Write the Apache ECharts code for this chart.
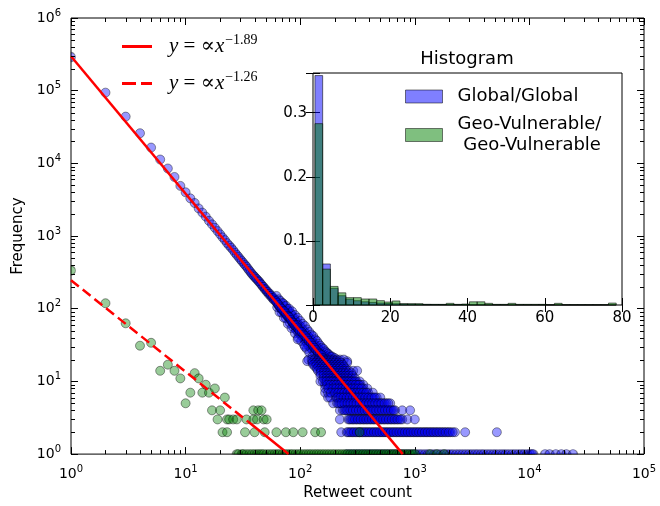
<!DOCTYPE html>
<html>
<head>
<meta charset="utf-8">
<script src="https://cdn.jsdelivr.net/npm/echarts@6.0.0/dist/echarts.min.js"></script>
<style>
	html, body {
		margin: 0;
		padding: 0;
		background: #fff;
	}

	#main {
		width: 660px;
		height: 506px;
	}
</style>
</head>
<body>
<div id="main"></div>
<script>
	// Global/Global: one point per retweet count near the head of the distribution
	var globalHeadX = [2, 3, 4, 5, 6, 7, 8, 9, 10, 11, 12, 13, 14, 15, 16, 17, 18, 19, 20, 21, 22, 23, 24, 25, 26, 27, 28, 29, 30,
		31, 32, 33, 34, 35, 36, 37, 38, 39, 40, 41, 42, 43, 44, 45, 46, 47, 48, 49, 50, 51, 52, 53, 54, 55, 56, 57, 58, 59, 60];
	var globalHeadY = [94000, 44000, 26000, 16500, 11300, 8500, 6500, 4900, 4000, 3300, 2850, 2400, 2100, 1850, 1620, 1450, 1300, 1170, 1060, 960, 880, 800, 740, 690, 640, 590, 550, 515, 480,
		452, 425, 400, 380, 355, 335, 318, 300, 287, 275, 262, 255, 240, 236, 222, 215, 202, 200, 186, 185, 172, 172, 160, 162, 150, 152, 140, 142, 132, 135];
	// Global/Global: the widening band, [count, frequency]
	var globalBand = [
		[62, 124], [62, 150], [63, 105], [64, 114], [65, 135], [66, 108], [67, 128], [68, 100], [69, 88], [70, 98],
		[71, 118], [72, 90], [73, 108], [74, 86], [75, 74], [76, 84], [77, 100], [78, 78], [79, 94], [80, 74],
		[81, 64], [82, 72], [83, 86], [84, 68], [85, 80], [86, 64], [87, 56], [88, 62], [89, 74], [90, 58],
		[91, 68], [92, 52], [93, 56], [94, 64], [95, 48], [96, 53], [97, 60], [98, 46], [100, 50], [101, 57],
		[102, 43], [104, 46], [105, 52], [106, 40], [108, 42], [109, 48], [110, 37], [112, 40], [113, 45], [114, 34],
		[116, 37], [117, 42], [118, 31], [120, 35], [122, 39], [123, 29], [125, 32], [127, 36], [128, 27], [130, 30],
		[132, 33], [134, 25], [135, 28], [137, 31], [140, 26], [142, 29], [144, 23], [146, 25], [148, 27], [150, 22],
		[153, 24], [156, 21], [160, 22], [163, 23], [168, 21], [172, 22],
		[70, 120], [75, 110], [80, 100], [85, 92], [90, 82], [95, 75], [100, 68], [105, 62], [110, 58], [115, 52],
		[120, 48], [125, 44], [130, 42], [135, 38], [140, 36], [145, 33], [150, 31], [155, 29], [160, 28], [165, 26],
		[170, 25], [175, 24], [180, 23], [185, 22], [190, 22], [200, 21],
		[66, 90], [72, 75], [78, 62], [84, 54], [90, 46], [96, 40], [102, 36], [108, 32], [114, 28], [120, 25],
		[128, 22], [95, 38], [110, 30],
		[61, 128], [63, 120], [65, 112], [67, 104], [69, 100], [71, 94], [73, 92], [75, 86], [77, 80], [79, 78],
		[81, 76], [83, 70], [85, 66], [87, 64], [89, 60], [91, 58], [93, 60], [95, 55], [97, 52], [99, 49],
		[103, 48], [107, 44], [111, 42], [115, 39], [119, 36], [124, 34], [129, 31], [133, 29], [138, 27], [143, 25],
		[148, 24], [154, 23], [158, 21]
	];
	// Global/Global: integer frequency rows in the tail
	var globalRowFreq = [20, 19, 18, 17, 16, 15, 14, 13, 12, 11, 10, 9, 8, 7, 6, 5, 4, 3, 2,
		10, 9, 8, 7, 6, 5, 4, 3, 2];
	var globalRowCounts = [
		[118, 126, 134, 143, 152, 162, 172, 183, 195, 208, 222, 240],
		[115, 128, 140, 150, 160, 171, 182, 194, 206, 220, 257],
		[128, 136, 145, 155, 165, 176, 188, 200, 214, 228, 257],
		[130, 140, 150, 160, 171, 182, 194, 207, 221, 236],
		[135, 144, 154, 164, 175, 186, 198, 211, 225, 240],
		[140, 150, 160, 170, 181, 193, 205, 218, 233, 250],
		[143, 152, 162, 172, 183, 195, 208, 221, 236, 250, 266, 290, 314],
		[150, 160, 170, 181, 192, 204, 217, 231, 246, 262, 280],
		[150, 160, 171, 182, 194, 206, 219, 233, 248, 264, 285],
		[160, 170, 181, 193, 205, 218, 232, 247, 263, 280, 300],
		[150, 165, 176, 187, 199, 212, 225, 240, 255, 272, 290, 310, 330],
		[165, 178, 190, 202, 215, 229, 244, 260, 277, 295, 315, 335, 355],
		[165, 188, 200, 213, 227, 242, 258, 275, 293, 312, 333, 356, 385],
		[165, 175, 196, 209, 222, 236, 251, 267, 284, 302, 322, 343, 366, 392, 430],
		[175, 183, 205, 218, 232, 247, 263, 280, 298, 317, 337, 359, 382, 407, 433, 465, 500],
		[194, 210, 222, 236, 251, 267, 284, 302, 321, 342, 364, 387, 412, 438, 466, 496, 528, 565, 610],
		[222, 236, 250, 265, 281, 298, 316, 335, 355, 376, 399, 423, 448, 475, 504, 534, 566, 600, 636, 673, 777, 910],
		[222, 262, 277, 293, 310, 328, 347, 367, 388, 411, 435, 460, 487, 515, 545, 577, 611, 647, 685, 725, 777, 860, 1000],
		[228, 255, 270, 286, 303, 321, 340, 360, 381, 403, 427, 452, 478, 506, 536, 567, 600, 636, 673, 712, 754, 798, 845, 894,
			946, 1002, 1060, 1122, 1190, 1260, 1335, 1415, 1500, 1590, 1690, 1800, 1920, 2050, 2240, 2750, 5200],
		[158, 170, 182, 193, 205, 218, 232, 247, 263, 281, 300],
		[172, 184, 196, 208, 222, 236, 252, 268, 286, 305, 325],
		[176, 194, 206, 220, 234, 250, 266, 284, 302, 322, 344],
		[185, 202, 215, 229, 243, 259, 275, 293, 312, 332, 354, 378],
		[211, 225, 239, 255, 271, 289, 307, 327, 348, 370, 394, 420, 448],
		[216, 229, 243, 259, 275, 293, 311, 331, 353, 375, 399, 425, 452, 481, 512, 546, 587],
		[243, 257, 273, 289, 307, 325, 345, 365, 387, 411, 435, 461, 489, 519, 550, 583, 618, 655],
		[270, 285, 301, 319, 337, 357, 377, 399, 423, 447, 473, 501, 530, 561, 594, 629, 666, 705, 750],
		[262, 278, 294, 312, 330, 350, 370, 392, 415, 440, 465, 492, 521, 551, 583, 618, 654, 692, 733, 776, 821, 869,
			920, 974, 1030, 1090, 1155, 1225, 1295, 1375, 1455, 1545, 1640, 1745, 1860, 1985, 2140]
	];
	// counts seen exactly once
	var globalOnce = [255, 272, 290, 310, 330, 352, 375, 400, 425, 452, 480, 512, 545, 580, 620, 660, 700, 745, 790, 845,
		900, 960, 1020, 1085, 1150, 1225, 1300, 1390, 1480, 1580, 1680, 1790, 1900, 2020, 2150, 2300, 2450, 2610, 2780, 2960,
		3150, 3350, 3550, 3780, 4000, 4270, 4550, 4850, 5150, 5500, 5850, 6200, 6600, 7050, 7500, 8000, 8500, 9000, 9600, 10100,
		10500, 10800, 13700, 15000, 17000, 19000, 21000, 24000];
	var globalAtOne = 290000;

	// Geo-Vulnerable/Geo-Vulnerable
	var geoPoints = [
		[2, 119], [3, 63], [4, 31], [5, 34], [6, 14], [7, 17], [8, 14], [9, 11], [10, 5], [11, 7],
		[12, 13], [13, 11], [14, 7], [15, 9], [16, 7], [17, 4], [18, 8], [19, 3], [20, 4], [21, 2],
		[22, 6], [23, 2], [23, 3], [24, 3], [26, 3], [28, 3], [33, 2], [34, 3], [39, 3], [39, 4],
		[40, 2], [42, 3], [43, 4], [46, 4], [48, 3], [49, 2], [51, 3], [62, 2], [75, 2], [87, 2],
		[105, 2], [135, 2], [152, 2], [330, 2]
	];
	var geoOnce = [28, 29, 31, 32, 34, 36, 38, 40, 42, 44, 46, 48, 51, 54, 57, 60, 63, 66, 70, 74, 78, 82, 86, 91, 96, 101,
		107, 113, 119, 125, 132, 139, 146, 154, 162, 171, 180, 190, 200, 211, 222, 234, 246, 259, 273, 288, 303, 319, 336, 354,
		373, 393, 414, 436, 459, 484, 510, 537, 566, 596, 628, 661, 696, 733, 772, 813, 856, 902, 950, 1000, 1350, 1550, 1800];
	var geoAtOne = 336;

	// power-law fits (straight in log-log, so the end points define them)
	var fitGlobalX = [1, 785];
	var fitGlobalY = [297000, 1];
	var fitGeoDashX = [1, 35];
	var fitGeoDashY = [247, 2.8];
	var fitGeoTailX = [35, 79];
	var fitGeoTailY = [2.8, 1];

	// inset histogram (bin width 2)
	var binStarts = [0.5, 2.5, 4.5, 6.5, 8.5, 10.5, 12.5, 14.5, 16.5, 18.5, 20.5, 22.5, 24.5, 26.5, 28.5, 30.5, 32.5, 34.5, 36.5, 38.5,
		40.5, 42.5, 44.5, 46.5, 48.5, 50.5, 52.5, 54.5, 56.5, 58.5, 60.5, 62.5, 64.5, 66.5, 68.5, 70.5, 72.5, 74.5, 76.5];
	var histGlobal = [0.358, 0.064, 0.026, 0.0145, 0.009, 0.0067, 0.005, 0.004, 0.003, 0.0024, 0.002, 0.0016, 0.0013, 0.0011, 0.0009, 0.0008, 0.0007, 0.0006, 0.0005, 0.0005,
		0.0004, 0.0004, 0.0003, 0.0003, 0.0003, 0.0002, 0.0002, 0.0002, 0.0002, 0.0002, 0.0001, 0.0001, 0.0001, 0.0001, 0.0001, 0.0001, 0.0001, 0.0001, 0.0001];
	var histGeo = [0.283, 0.056, 0.029, 0.019, 0.0115, 0.0115, 0.0094, 0.0094, 0.0068, 0.0047, 0.0063, 0.002, 0.002, 0.002, 0.001, 0.001, 0.001, 0.0026, 0.001, 0.0015,
		0.005, 0.005, 0.0026, 0.001, 0.001, 0.0026, 0.001, 0.001, 0.001, 0.001, 0.0005, 0.0026, 0.0005, 0.0005, 0.0005, 0.0005, 0.0005, 0.0005, 0.003];
	var binWidth = 2;

	var blueFill = 'rgba(0,0,255,0.5)';
	var greenFill = 'rgba(0,128,0,0.5)';
	var edge = 'rgba(0,0,0,0.5)';
	var dot = 9;
	var halfTop = 'path://M0,10A10,10,0,0,1,20,10Z';
	var halfRight = 'path://M0,0A10,10,0,0,1,0,20Z';

	var globalPts = [];
	globalHeadX.forEach(function (x, i) { globalPts.push([x, globalHeadY[i]]); });
	globalBand.forEach(function (p) { globalPts.push(p); });
	globalRowFreq.forEach(function (f, i) {
		globalRowCounts[i].forEach(function (x) { globalPts.push([x, f]); });
	});

	function pairs(xs, ys) {
		return xs.map(function (x, i) { return [x, ys[i]]; });
	}

	function bins(vals) {
		return vals.map(function (v, i) { return [binStarts[i], binStarts[i] + binWidth, v]; });
	}

	// minor ticks of the log axes at 2..9 of every decade
	var minorX = [], minorY = [];
	for (var k = 0; k < 6; k++) {
		for (var m = 2; m <= 9; m++) {
			var v = m * Math.pow(10, k);
			if (k < 5) minorX.push([v, 1]);
			minorY.push([1, v]);
		}
	}

	function powLabel(v) {
		var e = Math.round(Math.log10(v));
		return '{b|10}{s|' + e + '}';
	}
	var powRich = {
		b: { fontSize: 14, fontFamily: 'DejaVu Sans', color: '#000' },
		s: { fontSize: 10, fontFamily: 'DejaVu Sans', color: '#000', padding: [0, 0, 10, 0] }
	};

	function logAxis(grid, pos, min, max, split, show) {
		return {
			type: 'log', logBase: 10, gridIndex: grid, position: pos, min: min, max: max, splitNumber: split,
			axisLine: { show: false },
			axisTick: { show: true, inside: true, length: 7, lineStyle: { color: '#000' } },
			splitLine: { show: false },
			axisLabel: { show: show, formatter: powLabel, rich: powRich, margin: 10 }
		};
	}

	function linAxis(grid, pos, min, max, interval, show, fmt) {
		return {
			type: 'value', gridIndex: grid, position: pos, min: min, max: max, interval: interval,
			axisLine: { show: false },
			axisTick: { show: true, inside: true, length: 7, lineStyle: { color: '#000' } },
			splitLine: { show: false },
			axisLabel: { show: show, formatter: fmt, fontSize: 15, fontFamily: 'DejaVu Sans', color: '#000', margin: 6 }
		};
	}

	function histItem(fill) {
		return function (params, api) {
			var p0 = api.coord([api.value(0), api.value(2)]);
			var p1 = api.coord([api.value(1), 0]);
			return {
				type: 'rect',
				shape: { x: p0[0], y: p0[1], width: p1[0] - p0[0], height: p1[1] - p0[1] },
				style: { fill: fill, stroke: 'rgba(0,0,0,0.55)', lineWidth: 1 }
			};
		};
	}

	function tickX(params, api) {
		var b = api.coord([api.value(0), 1]);
		var t = api.coord([api.value(0), 1e6]);
		var x = Math.round(b[0]) + 0.5;
		return {
			type: 'group', children: [
				{ type: 'line', shape: { x1: x, y1: b[1], x2: x, y2: b[1] - 4 }, style: { stroke: '#000', lineWidth: 1 } },
				{ type: 'line', shape: { x1: x, y1: t[1], x2: x, y2: t[1] + 4 }, style: { stroke: '#000', lineWidth: 1 } }
			]
		};
	}

	function tickY(params, api) {
		var l = api.coord([1, api.value(1)]);
		var r = api.coord([1e5, api.value(1)]);
		var y = Math.round(l[1]) + 0.5;
		return {
			type: 'group', children: [
				{ type: 'line', shape: { x1: l[0], y1: y, x2: l[0] + 4, y2: y }, style: { stroke: '#000', lineWidth: 1 } },
				{ type: 'line', shape: { x1: r[0], y1: y, x2: r[0] - 4, y2: y }, style: { stroke: '#000', lineWidth: 1 } }
			]
		};
	}

	var mathRich = {
		i: { fontFamily: 'Liberation Serif', fontStyle: 'italic', fontSize: 21, color: '#000' },
		n: { fontFamily: 'Liberation Serif, DejaVu Serif', fontSize: 21, color: '#000' },
		s: { fontFamily: 'Liberation Serif', fontSize: 14, color: '#000', padding: [0, 0, 13, 1] }
	};
	var histNames = {
		'Global/Global': 'Global/Global',
		'Geo-Vulnerable/Geo-Vulnerable': 'Geo-Vulnerable/\n Geo-Vulnerable'
	};

	var chart = echarts.init(document.getElementById('main'), null, { renderer: 'canvas' });
	var option = {
		backgroundColor: '#fff',
		animation: false,
		title: {
			text: 'Histogram', left: 467, top: 50, padding: 0, textAlign: 'center',
			textStyle: { fontSize: 18, fontWeight: 'normal', fontFamily: 'DejaVu Sans', color: '#000' }
		},
		grid: [
			{ left: 71, right: 16, top: 18, bottom: 44, show: true, borderColor: '#000', borderWidth: 1, backgroundColor: '#fff' },
			{ left: 313, right: 38, top: 73, bottom: 201, show: true, borderColor: '#000', borderWidth: 1, backgroundColor: '#fff' }
		],
		legend: [{
			data: [
				{ name: 'fit189', icon: 'path://M0,0h30v3h-30z' },
				{ name: 'fit126', icon: 'path://M0,0h14v3h-14zM19,0h11v3h-11z' }
			],
			orient: 'vertical', left: 122, top: 33, padding: 0,
			itemWidth: 30, itemHeight: 3, itemGap: 13, selectedMode: false,
			formatter: function (n) {
				return n === 'fit189' ? '{i|y}{n| = ∝}{i|x}{s|−1.89}' : '{i|y}{n| = ∝}{i|x}{s|−1.26}';
			},
			textStyle: { rich: mathRich, padding: [0, 0, 0, 12] }
		}, {
			data: ['Global/Global', 'Geo-Vulnerable/Geo-Vulnerable'],
			orient: 'vertical', left: 405, top: 86, padding: 0,
			itemWidth: 37, itemHeight: 13, itemGap: 7, icon: 'rect', selectedMode: false,
			itemStyle: { borderColor: 'rgba(0,0,0,0.5)', borderWidth: 1 },
			formatter: function (n) { return histNames[n]; },
			textStyle: { fontSize: 18, fontFamily: 'DejaVu Sans', color: '#000', lineHeight: 21, padding: [0, 0, 0, 10] }
		}],
		xAxis: [
			Object.assign(logAxis(0, 'bottom', 1, 1e5, 5, true), {
				name: 'Retweet count', nameLocation: 'middle', nameGap: 27,
				nameTextStyle: { fontSize: 15, fontFamily: 'DejaVu Sans', color: '#000' }
			}),
			logAxis(0, 'top', 1, 1e5, 5, false),
			linAxis(1, 'bottom', 0, 80, 20, true),
			linAxis(1, 'top', 0, 80, 20, false)
		],
		yAxis: [
			Object.assign(logAxis(0, 'left', 1, 1e6, 6, true), {
				name: 'Frequency', nameLocation: 'middle', nameGap: 44,
				nameTextStyle: { fontSize: 15, fontFamily: 'DejaVu Sans', color: '#000' }
			}),
			logAxis(0, 'right', 1, 1e6, 6, false),
			linAxis(1, 'left', 0, 0.362, 0.1, true, function (v) {
				return (v > 0.05 && v < 0.35) ? v.toFixed(1) : '';
			}),
			linAxis(1, 'right', 0, 0.362, 0.1, false)
		],
		series: [
			{
				name: 'Global', type: 'scatter', xAxisIndex: 0, yAxisIndex: 0, symbolSize: dot, data: globalPts, z: 2,
				itemStyle: { color: blueFill, borderColor: edge, borderWidth: 1 }
			},
			{
				name: 'GlobalOnce', type: 'scatter', xAxisIndex: 0, yAxisIndex: 0, symbol: halfTop, symbolSize: [dot, dot / 2], symbolOffset: [0, -dot / 4], z: 2,
				data: globalOnce.map(function (x) { return [x, 1]; }),
				itemStyle: { color: blueFill, borderColor: edge, borderWidth: 1 }
			},
			{
				name: 'GlobalOne', type: 'scatter', xAxisIndex: 0, yAxisIndex: 0, symbol: halfRight, symbolSize: [dot / 2, dot], symbolOffset: [dot / 4, 0], z: 2,
				data: [[1, globalAtOne]],
				itemStyle: { color: blueFill, borderColor: edge, borderWidth: 1 }
			},
			{
				name: 'Geo', type: 'scatter', xAxisIndex: 0, yAxisIndex: 0, symbolSize: dot, data: geoPoints, z: 2,
				itemStyle: { color: greenFill, borderColor: edge, borderWidth: 1 }
			},
			{
				name: 'GeoOnce', type: 'scatter', xAxisIndex: 0, yAxisIndex: 0, symbol: halfTop, symbolSize: [dot, dot / 2], symbolOffset: [0, -dot / 4], z: 2,
				data: geoOnce.map(function (x) { return [x, 1]; }),
				itemStyle: { color: greenFill, borderColor: edge, borderWidth: 1 }
			},
			{
				name: 'GeoOne', type: 'scatter', xAxisIndex: 0, yAxisIndex: 0, symbol: halfRight, symbolSize: [dot / 2, dot], symbolOffset: [dot / 4, 0], z: 2,
				data: [[1, geoAtOne]],
				itemStyle: { color: greenFill, borderColor: edge, borderWidth: 1 }
			},
			{
				name: 'fit189', type: 'line', xAxisIndex: 0, yAxisIndex: 0, symbol: 'none', z: 3,
				data: pairs(fitGlobalX, fitGlobalY),
				lineStyle: { color: '#ff0000', width: 2.5 }, itemStyle: { color: '#ff0000' }
			},
			{
				name: 'fit126', type: 'line', xAxisIndex: 0, yAxisIndex: 0, symbol: 'none', z: 3,
				data: pairs(fitGeoDashX, fitGeoDashY),
				lineStyle: { color: '#ff0000', width: 2.5, type: [10, 5] }, itemStyle: { color: '#ff0000' }
			},
			{
				name: 'fit126tail', type: 'line', xAxisIndex: 0, yAxisIndex: 0, symbol: 'none', z: 3,
				data: pairs(fitGeoTailX, fitGeoTailY),
				lineStyle: { color: '#ff0000', width: 2.5 }
			},
			{
				type: 'custom', xAxisIndex: 0, yAxisIndex: 0, renderItem: tickX, data: minorX, clip: false, silent: true, z: 4
			},
			{
				type: 'custom', xAxisIndex: 0, yAxisIndex: 0, renderItem: tickY, data: minorY, clip: false, silent: true, z: 4
			},
			{
				name: 'Global/Global', type: 'custom', xAxisIndex: 2, yAxisIndex: 2, renderItem: histItem(blueFill),
				data: bins(histGlobal), encode: { x: [0, 1], y: 2 }, itemStyle: { color: blueFill }, z: 5
			},
			{
				name: 'Geo-Vulnerable/Geo-Vulnerable', type: 'custom', xAxisIndex: 2, yAxisIndex: 2, renderItem: histItem(greenFill),
				data: bins(histGeo), encode: { x: [0, 1], y: 2 }, itemStyle: { color: greenFill }, z: 6
			}
		]
	};
	chart.setOption(option);
</script>
</body>
</html>
